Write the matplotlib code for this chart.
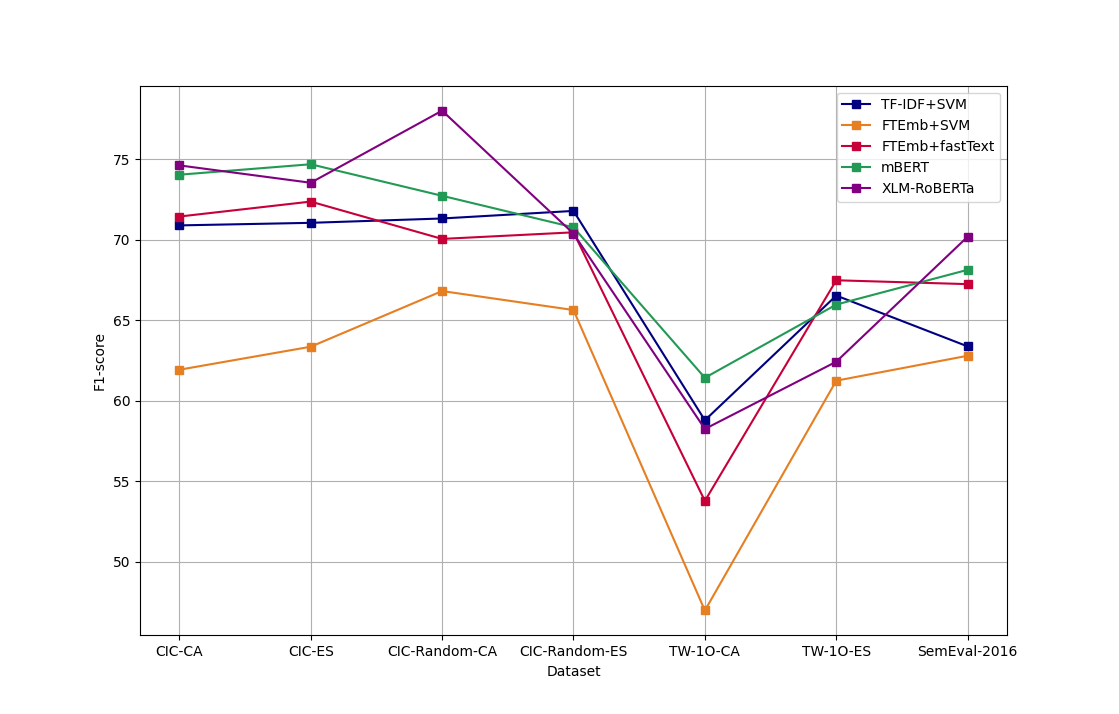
import matplotlib
matplotlib.use("Agg")
import matplotlib.pyplot as plt

datasets = ["CIC-CA", "CIC-ES", "CIC-Random-CA", "CIC-Random-ES", "TW-1O-CA", "TW-1O-ES", "SemEval-2016"]

tfidf_svm = [70.90, 71.06, 71.33, 71.80, 58.79, 66.54, 63.38]
ftemb_svm = [61.93, 63.36, 66.82, 65.64, 46.97, 61.25, 62.80]
ftemb_fasttext = [71.45, 72.38, 70.06, 70.47, 53.78, 67.49, 67.25]
mbert = [74.05, 74.70, 72.74, 70.78, 61.43, 65.98, 68.14]
xlm_roberta = [74.63, 73.55, 78.03, 70.39, 58.25, 62.43, 70.20]

fig = plt.figure(figsize=(11.19, 7.14), dpi=100)
ax = fig.add_subplot(111)

ax.plot(datasets, tfidf_svm, marker="s", color="#000080", label="TF-IDF+SVM")
ax.plot(datasets, ftemb_svm, marker="s", color="#e67e22", label="FTEmb+SVM")
ax.plot(datasets, ftemb_fasttext, marker="s", color="#c70039", label="FTEmb+fastText")
ax.plot(datasets, mbert, marker="s", color="#229954", label="mBERT")
ax.plot(datasets, xlm_roberta, marker="s", color="#800080", label="XLM-RoBERTa")

ax.set_xlabel("Dataset")
ax.set_ylabel("F1-score")
ax.grid(True, color="#b0b0b0")
ax.legend(loc="upper right")

fig.savefig("out.png", dpi=100)
